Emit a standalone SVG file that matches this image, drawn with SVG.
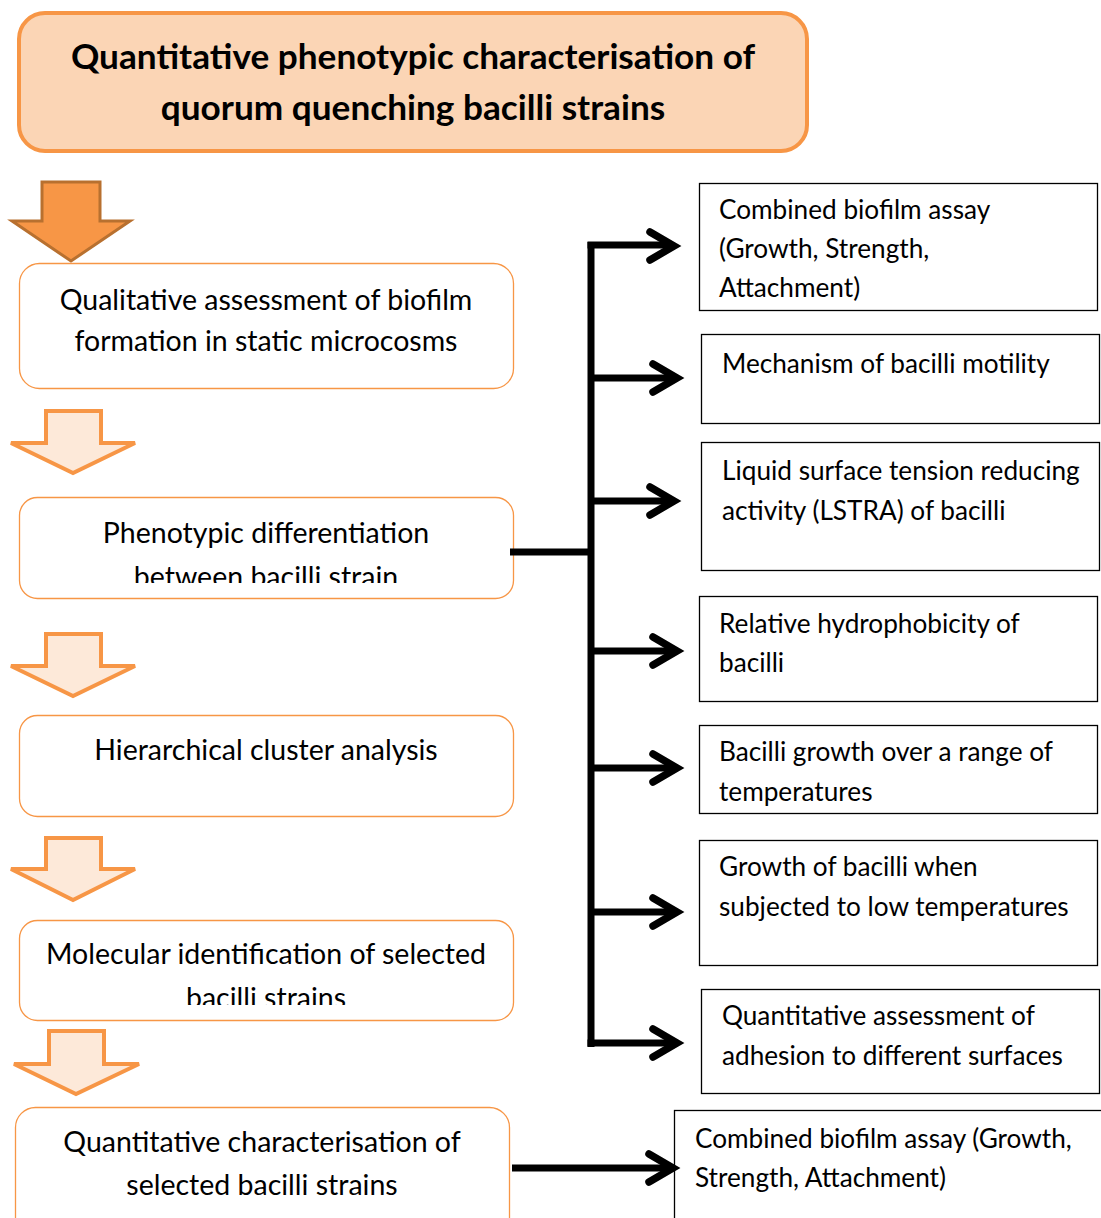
<svg xmlns="http://www.w3.org/2000/svg" width="1101" height="1218" viewBox="0 0 1101 1218">
<style>
  .step { fill: #ffffff; stroke: #F79646; stroke-width: 1.3; }
  .res { fill: #ffffff; stroke: #000000; stroke-width: 1.3; }
  .lt { font-family: Lato, "Open Sans", sans-serif; font-size: 28.5px; fill: #000; text-anchor: middle; }
  .rt { font-family: Lato, "Open Sans", sans-serif; font-size: 26.2px; fill: #000; }
  .title { font-family: Lato, "Open Sans", sans-serif; font-size: 35.2px; font-weight: bold; fill: #000; text-anchor: middle; }
  .down { fill: #FDE9D9; stroke: #F79646; stroke-width: 4; stroke-linejoin: miter; }
  .conn { fill: none; stroke: #000; stroke-width: 7; }
  .head { fill: none; stroke: #000; stroke-width: 7.5; stroke-linecap: round; stroke-linejoin: miter; }
</style>
<defs>
  <clipPath id="c2"><rect x="19" y="497" width="494" height="86"/></clipPath>
  <clipPath id="c4"><rect x="19" y="920" width="494" height="85"/></clipPath>
</defs>
<rect width="1101" height="1218" fill="#ffffff"/>

<g id="title">
  <rect x="19" y="13" width="788" height="138" rx="26" fill="#FBD5B5" stroke="#F79646" stroke-width="4"/>
  <text class="title" x="413" y="69">Quantitative phenotypic characterisation of</text>
  <text class="title" x="413" y="120">quorum quenching bacilli strains</text>
</g>

<g id="arrow1">
  <polygon points="42,182 100,182 100,221 130,221 71,261 12,221 42,221" fill="#F79646" stroke="#B8702F" stroke-width="3"/>
</g>

<g id="step1">
  <rect class="step" x="19.5" y="263.5" width="494" height="125" rx="20"/>
  <text class="lt" x="266" y="310">Qualitative assessment of biofilm</text>
  <text class="lt" x="266" y="351">formation in static microcosms</text>
</g>

<g id="arrow2">
  <polygon class="down" points="46,411 101,411 101,443 135,443 73,473 11,443 46,443"/>
</g>

<g id="step2">
  <rect class="step" x="19.5" y="497.5" width="494" height="101" rx="18"/>
  <g clip-path="url(#c2)">
    <text class="lt" x="266" y="543">Phenotypic differentiation</text>
    <text class="lt" x="266" y="587">between bacilli strain</text>
  </g>
</g>

<g id="arrow3">
  <polygon class="down" points="46,634 101,634 101,666 135,666 73,696 11,666 46,666"/>
</g>

<g id="step3">
  <rect class="step" x="19.5" y="715.5" width="494" height="101" rx="18"/>
  <text class="lt" x="266" y="760">Hierarchical cluster analysis</text>
</g>

<g id="arrow4">
  <polygon class="down" points="46,838 101,838 101,869 135,869 73,900 11,869 46,869"/>
</g>

<g id="step4">
  <rect class="step" x="19.5" y="920.5" width="494" height="100" rx="18"/>
  <g clip-path="url(#c4)">
    <text class="lt" x="266" y="964">Molecular identification of selected</text>
    <text class="lt" x="266" y="1008">bacilli strains</text>
  </g>
</g>

<g id="arrow5">
  <polygon class="down" points="49,1031 104,1031 104,1064 139,1064 76,1094 14,1064 49,1064"/>
</g>

<g id="step5">
  <rect class="step" x="15.5" y="1107.5" width="494" height="130" rx="20"/>
  <text class="lt" x="262" y="1152">Quantitative characterisation of</text>
  <text class="lt" x="262" y="1195">selected bacilli strains</text>
</g>

<g id="r1">
  <rect class="res" x="699.5" y="183.5" width="398" height="127"/>
  <text class="rt" x="719" y="219">Combined biofilm assay</text>
  <text class="rt" x="719" y="258">(Growth, Strength,</text>
  <text class="rt" x="719" y="297">Attachment)</text>
</g>
<g id="r2">
  <rect class="res" x="701.5" y="334.5" width="398" height="89"/>
  <text class="rt" x="722" y="373">Mechanism of bacilli motility</text>
</g>
<g id="r3">
  <rect class="res" x="701.5" y="442.5" width="398" height="128"/>
  <text class="rt" x="722" y="480">Liquid surface tension reducing</text>
  <text class="rt" x="722" y="520">activity (LSTRA) of bacilli</text>
</g>
<g id="r4">
  <rect class="res" x="699.5" y="596.5" width="398" height="105"/>
  <text class="rt" x="719" y="633">Relative hydrophobicity of</text>
  <text class="rt" x="719" y="672">bacilli</text>
</g>
<g id="r5">
  <rect class="res" x="699.5" y="725.5" width="398" height="88"/>
  <text class="rt" x="719" y="761">Bacilli growth over a range of</text>
  <text class="rt" x="719" y="801">temperatures</text>
</g>
<g id="r6">
  <rect class="res" x="699.5" y="840.5" width="398" height="125"/>
  <text class="rt" x="719" y="876">Growth of bacilli when</text>
  <text class="rt" x="719" y="916">subjected to low temperatures</text>
</g>
<g id="r7">
  <rect class="res" x="701.5" y="989.5" width="398" height="104"/>
  <text class="rt" x="722" y="1025">Quantitative assessment of</text>
  <text class="rt" x="722" y="1065">adhesion to different surfaces</text>
</g>
<g id="r8">
  <rect class="res" x="674.5" y="1110.5" width="440" height="120"/>
  <text class="rt" x="695" y="1148">Combined biofilm assay (Growth,</text>
  <text class="rt" x="695" y="1187">Strength, Attachment)</text>
</g>

<g id="connectors">
  <path class="conn" d="M510,552 H591"/>
  <path class="conn" d="M591,242 V1047"/>
  <path class="conn" d="M587.5,245 H672"/>
  <path class="conn" d="M591,378 H675"/>
  <path class="conn" d="M591,501 H672"/>
  <path class="conn" d="M591,651 H675"/>
  <path class="conn" d="M591,768 H675"/>
  <path class="conn" d="M591,912 H675"/>
  <path class="conn" d="M587.5,1043 H675"/>
  <path class="conn" d="M512,1168 H670"/>
  <path class="head" d="M650,232 L674,246 L650,260"/>
  <path class="head" d="M653,364 L677,378 L653,392"/>
  <path class="head" d="M650,487 L674,501 L650,515"/>
  <path class="head" d="M653,637 L677,651 L653,665"/>
  <path class="head" d="M653,754 L677,768 L653,782"/>
  <path class="head" d="M653,898 L677,912 L653,926"/>
  <path class="head" d="M653,1029 L677,1043 L653,1057"/>
  <path class="head" d="M649,1154 L673,1168 L649,1182"/>
</g>
</svg>
